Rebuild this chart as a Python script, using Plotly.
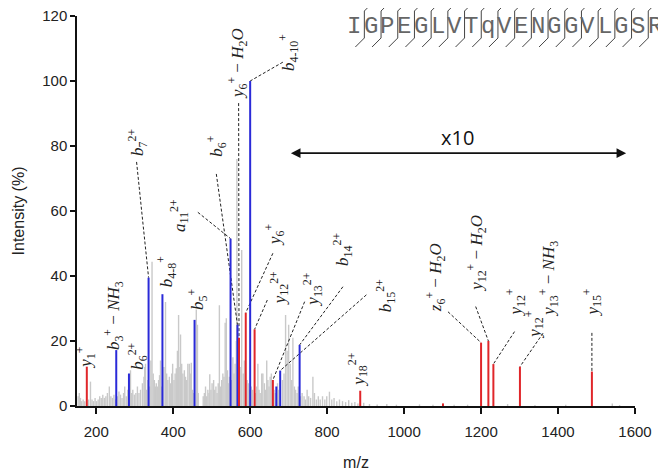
import plotly.graph_objects as go

# ---------------- data ----------------
gray_mz = [153, 156, 159, 162, 166, 170, 180, 185, 189, 193, 197,
           201, 205, 209, 213, 217, 221, 225, 229, 234, 238, 242, 246, 250,
           255, 259, 263, 267, 271, 274, 278, 282, 289, 292, 295, 299,
           303, 307, 311, 315, 320, 324, 326, 328, 331, 334, 339, 342,
           345, 348, 351, 354, 356, 359, 362, 364.5, 367, 369, 376, 380, 383, 386,
           390, 393, 396, 398.5, 402, 405, 408, 411, 414, 417, 419, 422, 425, 429,
           432, 435, 438, 442, 445, 447, 450, 452, 460, 463, 465,
           478, 481, 484, 487, 490, 493, 495, 498, 501, 505, 508, 511, 514, 517,
           520, 523, 526, 529, 532, 535, 538, 541, 543, 546,
           552, 555, 558, 561, 564, 565.5, 570, 574, 578, 582, 585, 592, 595, 598,
           603, 606, 614, 617, 620, 623, 626, 630, 633, 637, 640, 643, 646, 649,
           652, 655, 662, 665,
           671, 674, 684, 688, 692, 696, 700, 704, 708, 711, 715, 718, 722, 725,
           731, 735, 740, 744, 748, 752, 757, 763, 767, 772, 777, 782, 788, 794, 799,
           806, 812, 818, 825, 832, 840, 848, 856, 864, 872, 880, 895, 910, 930, 955, 980,
           1040, 1075, 1130, 1165, 1269, 1340, 1420, 1541, 1560]
gray_int = [3, 4, 2.5, 1.5, 2, 1.5, 2, 7.5, 2, 1.5, 2.5,
            1.5, 2, 3, 2.5, 3.5, 2.5, 3, 4, 6, 3, 2.5, 3.5, 2,
            3, 4.5, 3.5, 2.5, 4, 6, 3, 5, 11, 4, 5, 3.5,
            4, 6, 4, 5, 7, 9, 12, 13, 5, 8, 6, 14,
            44.4, 10, 8, 6, 7, 6, 8, 9.5, 14, 6, 12, 32, 10, 8,
            9, 7, 10, 13, 8, 10, 11.6, 17, 28, 12, 22, 13, 10, 11,
            9, 8, 13, 13, 10, 13.3, 5, 4, 29.7, 25, 4,
            3, 4, 6, 3, 5, 4, 9.8, 5, 7, 8, 5, 6, 4, 7,
            31, 6, 8, 10, 9, 25.6, 27, 11, 7, 9,
            8, 15, 10, 13, 20, 76, 5, 12, 48, 10, 14, 8, 7, 5,
            6, 5, 4, 6, 13, 5, 4, 10, 10, 7, 5, 14, 8, 6,
            9, 10, 5, 4,
            7, 5, 8, 10, 28, 17, 25, 13, 8, 21, 6, 5, 4, 6,
            3, 4, 3, 2, 5, 3, 2.5, 9, 4, 2, 3, 2, 3, 2, 3,
            4.4, 2, 2.5, 1.5, 2, 1.5, 1.2, 1.8, 1, 1.2, 0.8, 1, 0.6, 0.5, 0.6, 0.4,
            0.5, 0.4, 0.4, 0.4, 0.6, 0.3, 0.4, 0.8, 0.3]

blue_mz = [252, 285, 336, 372, 455.5, 549, 567, 600, 668, 678, 728.5]
blue_int = [17.2, 10, 39.5, 34.4, 26.5, 51.5, 25, 100, 6, 10.9, 18.8]

red_mz = [175.5, 571, 588.5, 611.5, 659, 886, 1101, 1200, 1219, 1232, 1301, 1488]
red_int = [12.1, 21, 28.7, 23.6, 8, 4.7, 0.8, 19.5, 20, 12.9, 12.1, 10.6]

x_ticks = [200, 400, 600, 800, 1000, 1200, 1400, 1600]
y_ticks = [0, 20, 40, 60, 80, 100, 120]

sequence = "IGPEGLVTqVENGGVLGSR"

# label text, series, peak index, label base (m/z, %), leader start (m/z, %) or None
labels = [
    ("<i>y</i><sub>1</sub><sup>+</sup>", None, None, (172, 10.8), None),
    ("<i>b</i><sub>3</sub><sup>+</sup> − <i>NH</i><sub>3</sub>", None, None, (245, 16.6), None),
    ("<i>b</i><sub>6</sub><sup>2+</sup>", None, None, (307, 10.5), None),
    ("<i>b</i><sub>7</sub><sup>2+</sup>", "blue", 2, (307, 76.3), (304.8, 75.1)),
    ("<i>b</i><sub>4-8</sub><sup>+</sup>", None, None, (383, 36), None),
    ("<i>b</i><sub>5</sub><sup>+</sup>", None, None, (463, 28.9), None),
    ("<i>a</i><sub>11</sub><sup>2+</sup>", "blue", 5, (416, 52.9), (464, 59.6)),
    ("<i>b</i><sub>6</sub><sup>+</sup>", "blue", 6, (512, 76), (512, 71.4)),
    ("<i>y</i><sub>6</sub><sup>+</sup> − <i>H</i><sub>2</sub><i>O</i>", "red", 1, (567, 93.8), (570, 93.2)),
    ("<i>b</i><sub>4-10</sub><sup>+</sup>", "blue", 7, (700, 102.5), (685, 105.8)),
    ("<i>y</i><sub>6</sub><sup>+</sup>", "red", 2, (663, 48.6), (659, 47)),
    ("<i>y</i><sub>12</sub><sup>2+</sup>", "red", 3, (676, 30.5), (644.5, 32.6)),
    ("<i>y</i><sub>13</sub><sup>2+</sup>", "red", 4, (762, 29.8), (741.5, 32.1)),
    ("<i>b</i><sub>14</sub><sup>2+</sup>", "blue", 10, (840, 42.5), (841, 36.7)),
    ("<i>b</i><sub>15</sub><sup>2+</sup>", "blue", 9, (952, 28.3), (902, 34.2)),
    ("<i>y</i><sub>18</sub><sup>2+</sup>", None, None, (879, 5.2), None),
    ("<i>z</i><sub>6</sub><sup>+</sup> − <i>H</i><sub>2</sub><i>O</i>", "red", 7, (1082, 28.3), (1114, 29)),
    ("<i>y</i><sub>12</sub><sup>+</sup> − <i>H</i><sub>2</sub><i>O</i>", "red", 8, (1188, 34.5), (1186, 30.6)),
    ("<i>y</i><sub>12</sub><sup>+</sup>", "red", 9, (1290, 26.8), (1287, 22.9)),
    ("<i>y</i><sub>13</sub><sup>+</sup> − <i>NH</i><sub>3</sub>", "red", 10, (1376, 26.8), (1361, 22.4)),
    ("<i>y</i><sub>12</sub><sup>+</sup>", None, None, (1337, 20), None),
    ("<i>y</i><sub>15</sub><sup>+</sup>", "red", 11, (1490, 26.8), (1488, 22.5)),
]

# ---------------- helpers ----------------
def stems(mz, inten):
    xs, ys = [], []
    for m, v in zip(mz, inten):
        xs += [m, m, None]
        ys += [0, v, None]
    return xs, ys

BLUE = "#2a2ad8"
RED = "#e0262a"
GRAY = "#c9c9c9"

fig = go.Figure()
gx, gy = stems(gray_mz, gray_int)
fig.add_trace(go.Scatter(x=gx, y=gy, mode="lines", line=dict(color=GRAY, width=1.4),
                         hoverinfo="skip", showlegend=False))

# leader lines
lx, ly = [], []
series = {"blue": (blue_mz, blue_int), "red": (red_mz, red_int)}
for text, s, idx, base, lead in labels:
    if s is None or lead is None:
        continue
    pm, pi = series[s]
    lx += [lead[0], pm[idx], None]
    ly += [lead[1], pi[idx], None]
fig.add_trace(go.Scatter(x=lx, y=ly, mode="lines",
                         line=dict(color="#222", width=1, dash="3px,2px"),
                         hoverinfo="skip", showlegend=False))

bx, by = stems(blue_mz, blue_int)
fig.add_trace(go.Scatter(x=bx, y=by, mode="lines", line=dict(color=BLUE, width=2),
                         showlegend=False))
rx, ry = stems(red_mz, red_int)
fig.add_trace(go.Scatter(x=rx, y=ry, mode="lines", line=dict(color=RED, width=2),
                         showlegend=False))

annotations = []
for text, s, idx, base, lead in labels:
    annotations.append(dict(x=base[0], y=base[1], xref="x", yref="y", text=text,
                            showarrow=False, textangle=-90, xanchor="center",
                            yanchor="bottom",
                            font=dict(family="Liberation Serif", size=17, color="#222")))

# x10 double arrow
annotations.append(dict(x=1577, y=77.8, ax=702, ay=77.8, xref="x", yref="y",
                        axref="x", ayref="y", text="", showarrow=True,
                        arrowhead=2, startarrowhead=2, arrowside="end+start",
                        arrowwidth=1.6, arrowsize=1.2, startarrowsize=1.2,
                        arrowcolor="#111"))
annotations.append(dict(x=1139, y=82.5, xref="x", yref="y", text="x10",
                        showarrow=False, font=dict(family="Open Sans", size=20, color="#111")))

# page offset of the figure inside the browser (default body margin)
OFF = 8
# plot area in page pixels
PL, PW, PB, PH = 77, 558, 406, 390

def px2paper(px, py):
    return (px - PL) / PW, (PB - py) / PH

shapes = []
x0, dx, yc = 354.0, 16.7, 26.0
for i, ch in enumerate(sequence):
    xp, yp = px2paper(x0 + i * dx, yc)
    annotations.append(dict(x=xp, y=yp, xref="paper", yref="paper", text=ch,
                            showarrow=False, xanchor="center", yanchor="middle",
                            borderpad=0,
                            font=dict(family="Liberation Mono", size=24, color="#666")))
    if i < len(sequence) - 1:
        xv = x0 + (i + 0.5) * dx + 2
        segs = [((xv, 11), (xv + 9, 2)), ((xv, 11), (xv, 38)), ((xv - 9, 47), (xv, 38))]
        for (a, b) in segs:
            ax_, ay_ = px2paper(*a)
            bx_, by_ = px2paper(*b)
            shapes.append(dict(type="line", xref="paper", yref="paper",
                               x0=ax_, y0=ay_, x1=bx_, y1=by_,
                               line=dict(color="#444", width=1)))

W, H = 666 - OFF, 472 - OFF
fig.update_layout(
    width=W, height=H,
    margin=dict(l=PL - OFF, r=666 - (PL + PW), t=(PB - PH) - OFF, b=472 - PB),
    paper_bgcolor="white", plot_bgcolor="white",
    annotations=annotations, shapes=shapes,
    showlegend=False,
    xaxis=dict(range=[150, 1600], tickvals=x_ticks, showgrid=False, zeroline=False,
               automargin=False, ticklabeloverflow="allow",
               showline=True, linecolor="#111", linewidth=1.5, ticks="outside",
               ticklen=6, tickwidth=1.5, tickcolor="#111", ticklabelstandoff=5,
               tickfont=dict(family="Liberation Sans", size=15, color="#222"),
               title=dict(text="m/z", standoff=18,
                          font=dict(family="Liberation Sans", size=16, color="#222"))),
    yaxis=dict(range=[0, 120], tickvals=y_ticks, showgrid=False, zeroline=False,
               automargin=False, ticklabeloverflow="allow",
               showline=True, linecolor="#111", linewidth=1.5, ticks="outside",
               ticklen=5, tickwidth=1.5, tickcolor="#111",
               tickfont=dict(family="Liberation Sans", size=15, color="#222"),
               title=dict(text="Intensity (%)", standoff=14,
                          font=dict(family="Liberation Sans", size=16, color="#222"))),
)

fig.write_html("out.html")
